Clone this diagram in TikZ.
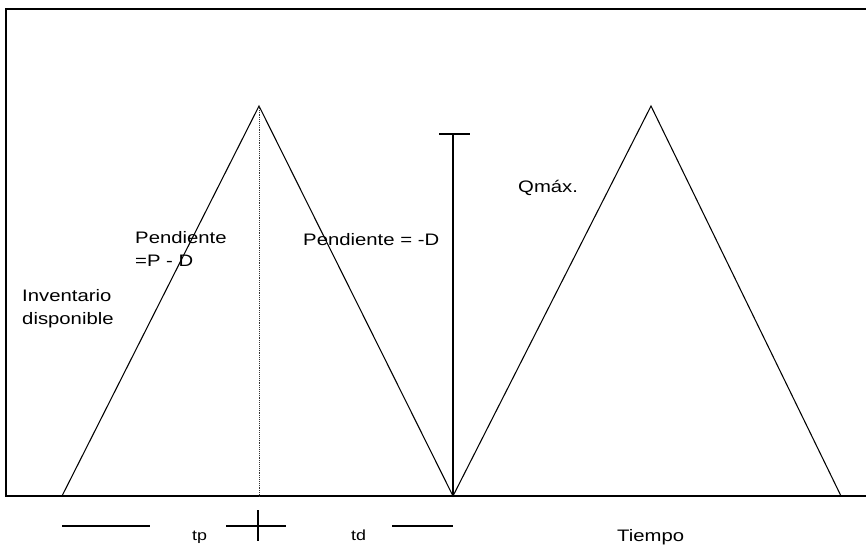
\documentclass[tikz,border=0pt]{standalone}
\usepackage{fontspec}
\setmainfont{Liberation Sans}[FakeStretch=1.22]
\usetikzlibrary{positioning}
\tikzset{
  frame/.style={line width=0.9pt, draw=black},
  ramp/.style={line width=0.9pt, draw=black},
  guide/.style={densely dotted, line width=0.6pt, draw=black!80},
  lbl/.style={font=\fontsize{14.2}{19.8}\selectfont, inner sep=0pt, align=left},
  small/.style={font=\fontsize{12.5}{14}\selectfont, inner sep=0pt},
}

\begin{document}
\begin{tikzpicture}[x=0.03cm, y=-0.03cm]
  \useasboundingbox (0,0) rectangle (866,549);

  % frame and time axis
  \coordinate (tl) at (6,9);
  \coordinate (tr) at (866,9);
  \coordinate (bl) at (6,496);
  \coordinate (br) at (866,496);
  \draw[frame] (tr) -- (tl) -- (bl) -- (br);

  % two inventory cycles
  \coordinate (s1) at (62,496);
  \coordinate (p1) at (259,106);
  \coordinate (e1) at (453,496);
  \coordinate (p2) at (651,106);
  \coordinate (e2) at (841,496);
  \coordinate (m1) at (259,496);
  \draw[ramp] (s1) -- (p1) -- (e1) -- (p2) -- (e2);
  \draw[guide] (p1) -- (m1);

  % Qmax bar
  \coordinate (qtop) at (453,134);
  \coordinate (qcapl) at (439,134);
  \coordinate (qcapr) at (470,134);
  \draw[ramp] (e1) -- (qtop);
  \draw[ramp] (qcapl) -- (qcapr);

  % time marks below the axis
  \coordinate (tpa) at (62,526);
  \coordinate (tpb) at (150,526);
  \coordinate (mkl) at (226,526);
  \coordinate (mkr) at (286,526);
  \coordinate (mkt) at (258,510);
  \coordinate (mkb) at (258,541);
  \coordinate (tda) at (392,526);
  \coordinate (tdb) at (453,526);
  \draw[ramp] (tpa) -- (tpb);
  \draw[ramp] (mkl) -- (mkr);
  \draw[ramp] (mkt) -- (mkb);
  \draw[ramp] (tda) -- (tdb);

  % labels
  \node[lbl, anchor=north west] (inv) at (22,289) {Inventario\\disponible};
  \node[lbl, anchor=north west] (slopeup) at (135,231) {Pendiente\\=P - D};
  \node[lbl, anchor=base west] (slopedn) at (303,245) {Pendiente = -D};
  \node[lbl, anchor=base west] (qmax) at (518,192) {Qmáx.};
  \node[small, anchor=base west] (tp) at (192,540) {tp};
  \node[small, anchor=base west] (td) at (351,540) {td};
  \node[lbl, anchor=base west] (time) at (617,541) {Tiempo};
\end{tikzpicture}
\end{document}
